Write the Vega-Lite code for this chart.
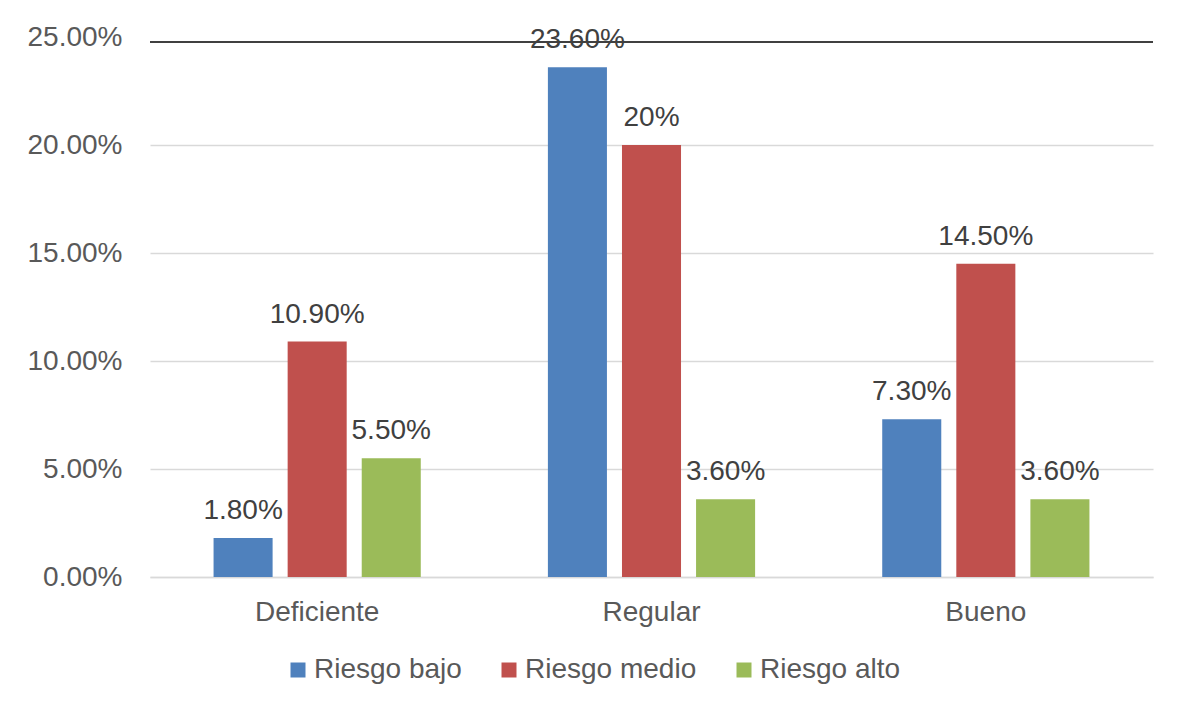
{
  "$schema": "https://vega.github.io/schema/vega-lite/v6.json",
  "autosize": "none",
  "width": 1003,
  "height": 540,
  "padding": {"left": 150, "top": 37, "right": 28, "bottom": 129},
  "background": "white",
  "config": {
    "font": "Liberation Sans",
    "view": {"stroke": null}
  },
  "layer": [
    {
      "data": {
        "values": [
          {"cat": "Deficiente", "serie": "Riesgo bajo", "v": 0.018, "label": "1.80%"},
          {"cat": "Deficiente", "serie": "Riesgo medio", "v": 0.109, "label": "10.90%"},
          {"cat": "Deficiente", "serie": "Riesgo alto", "v": 0.055, "label": "5.50%"},
          {"cat": "Regular", "serie": "Riesgo bajo", "v": 0.236, "label": "23.60%"},
          {"cat": "Regular", "serie": "Riesgo medio", "v": 0.20, "label": "20%"},
          {"cat": "Regular", "serie": "Riesgo alto", "v": 0.036, "label": "3.60%"},
          {"cat": "Bueno", "serie": "Riesgo bajo", "v": 0.073, "label": "7.30%"},
          {"cat": "Bueno", "serie": "Riesgo medio", "v": 0.145, "label": "14.50%"},
          {"cat": "Bueno", "serie": "Riesgo alto", "v": 0.036, "label": "3.60%"}
        ]
      },
      "encoding": {
        "x": {
          "field": "cat",
          "type": "nominal",
          "sort": ["Deficiente", "Regular", "Bueno"],
          "scale": {"paddingInner": 0, "paddingOuter": 0},
          "axis": {
            "title": null,
            "labelAngle": 0,
            "labelFontSize": 28,
            "labelColor": "#595959",
            "labelPadding": 21,
            "ticks": false,
            "domainColor": "#d9d9d9",
            "domainWidth": 1.5
          }
        },
        "xOffset": {
          "field": "serie",
          "type": "nominal",
          "sort": ["Riesgo bajo", "Riesgo medio", "Riesgo alto"],
          "scale": {"paddingInner": 0.203, "paddingOuter": 0.858}
        },
        "y": {
          "field": "v",
          "type": "quantitative",
          "scale": {"domain": [0, 0.25], "nice": false},
          "axis": {
            "title": null,
            "values": [0, 0.05, 0.1, 0.15, 0.2, 0.25],
            "format": ".2%",
            "labelFontSize": 28,
            "labelColor": "#595959",
            "labelPadding": 28,
            "ticks": false,
            "domain": false,
            "gridColor": {"condition": {"test": "datum.value === 0.25", "value": "transparent"}, "value": "#d9d9d9"},
            "gridWidth": 1.5
          }
        }
      },
      "layer": [
        {
          "mark": {"type": "bar"},
          "encoding": {
            "color": {
              "field": "serie",
              "type": "nominal",
              "sort": ["Riesgo bajo", "Riesgo medio", "Riesgo alto"],
              "scale": {
                "domain": ["Riesgo bajo", "Riesgo medio", "Riesgo alto"],
                "range": ["#4f81bd", "#c0504d", "#9bbb59"]
              },
              "legend": {
                "title": null,
                "orient": "none",
                "direction": "horizontal",
                "legendX": 134,
                "legendY": 619,
                "symbolType": "square",
                "symbolSize": 225,
                "symbolStrokeWidth": 0,
                "labelFontSize": 28,
                "labelColor": "#595959",
                "labelOffset": 2,
                "labelLimit": 400,
                "columnPadding": 33
              }
            }
          }
        },
        {
          "mark": {"type": "text", "baseline": "alphabetic", "dy": -19, "fontSize": 28, "color": "#404040"},
          "encoding": {
            "text": {"field": "label"}
          }
        }
      ]
    },
    {
      "data": {"values": [{"line": 0.2477}]},
      "mark": {"type": "rule", "color": "#404040", "strokeWidth": 2},
      "encoding": {
        "y": {"field": "line", "type": "quantitative"}
      }
    }
  ]
}
